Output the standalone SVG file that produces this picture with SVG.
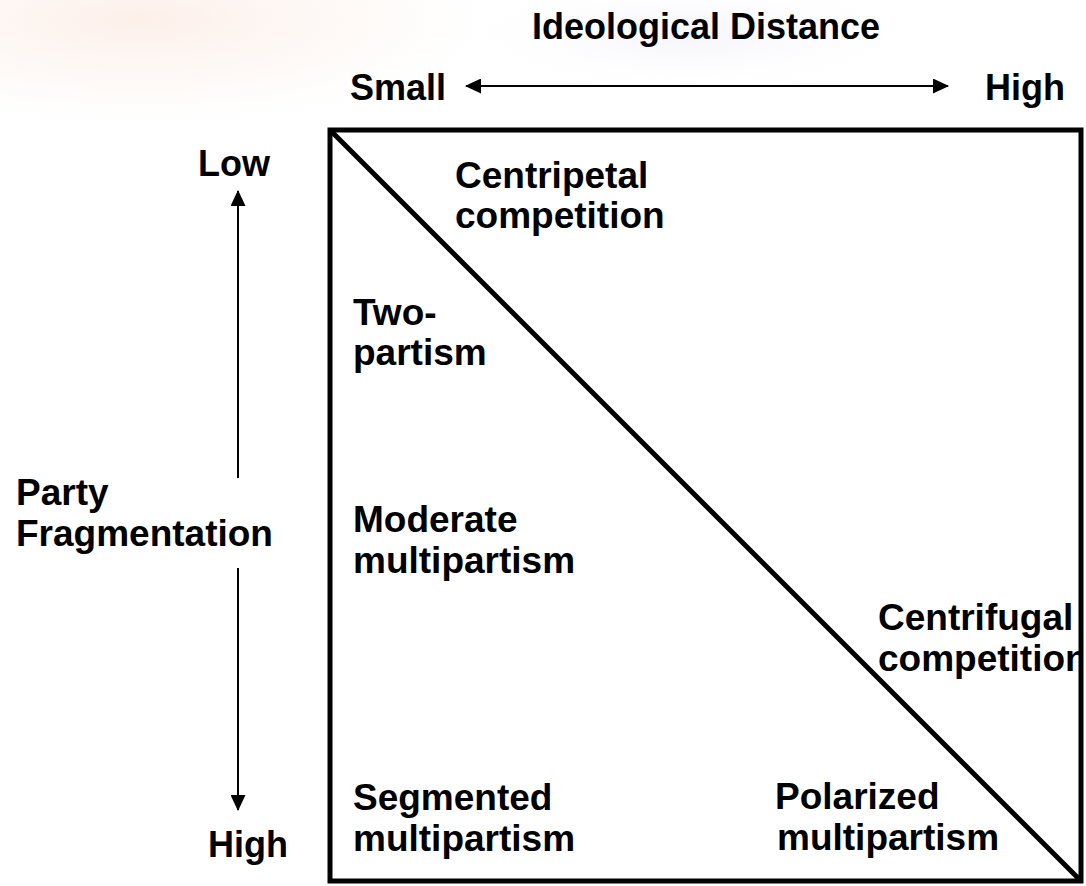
<svg xmlns="http://www.w3.org/2000/svg" width="1086" height="886" viewBox="0 0 1086 886">
  <defs>
    <style>
      .t { font-family: "Liberation Sans", Arial, sans-serif; font-weight: bold; font-size: 36px; fill: #000; }
      .in { font-size: 37px; }
      .ln { stroke: #000; fill: none; }
    </style>
    <marker id="ah" viewBox="0 0 16 15" refX="15" refY="7.5" markerWidth="16" markerHeight="15" markerUnits="userSpaceOnUse" orient="auto-start-reverse">
      <path d="M0,0 L16,7.5 L0,15 Z" fill="#000"/>
    </marker>
    <radialGradient id="g1" cx="140" cy="20" r="380" gradientUnits="userSpaceOnUse" gradientTransform="translate(140 20) scale(1 0.3) translate(-140 -20)">
      <stop offset="0" stop-color="#fbe5da" stop-opacity="0.6"/>
      <stop offset="0.6" stop-color="#fcefe8" stop-opacity="0.3"/>
      <stop offset="1" stop-color="#ffffff" stop-opacity="0"/>
    </radialGradient>
    <radialGradient id="g2" cx="690" cy="35" r="240" gradientUnits="userSpaceOnUse" gradientTransform="translate(690 35) scale(1 0.25) translate(-690 -35)">
      <stop offset="0" stop-color="#f0f0fa" stop-opacity="0.7"/>
      <stop offset="1" stop-color="#ffffff" stop-opacity="0"/>
    </radialGradient>
    <clipPath id="boxclip"><rect x="330" y="130" width="751" height="751"/></clipPath>
  </defs>
  <rect x="0" y="0" width="1086" height="886" fill="#fff"/>
  <rect x="0" y="0" width="1086" height="886" fill="url(#g1)"/>
  <rect x="0" y="0" width="1086" height="886" fill="url(#g2)"/>

  <g id="connectors">
    <line class="ln" x1="466" y1="86" x2="948" y2="86" stroke-width="2" marker-start="url(#ah)" marker-end="url(#ah)"/>
    <line class="ln" x1="238" y1="478" x2="238" y2="191" stroke-width="2" marker-end="url(#ah)"/>
    <line class="ln" x1="238" y1="568" x2="238" y2="810" stroke-width="2" marker-end="url(#ah)"/>
  </g>

  <g id="axis-x-title"><text class="t" x="532" y="39">Ideological Distance</text></g>
  <g id="axis-x-small"><text class="t" x="350" y="100">Small</text></g>
  <g id="axis-x-high"><text class="t" x="985" y="100">High</text></g>
  <g id="axis-y-low"><text class="t" x="198" y="176">Low</text></g>
  <g id="axis-y-title"><text class="t in" x="16" y="505">Party</text><text class="t in" x="16" y="546">Fragmentation</text></g>
  <g id="axis-y-high"><text class="t" x="208" y="857">High</text></g>

  <g id="centripetal"><text class="t in" x="455" y="188">Centripetal</text><text class="t in" x="455" y="228">competition</text></g>
  <g id="two-partism"><text class="t in" x="353" y="325">Two-</text><text class="t in" x="353" y="365">partism</text></g>
  <g id="moderate"><text class="t in" x="353" y="532">Moderate</text><text class="t in" x="353" y="573">multipartism</text></g>
  <g id="segmented"><text class="t in" x="353" y="810">Segmented</text><text class="t in" x="353" y="851">multipartism</text></g>
  <g id="polarized"><text class="t in" x="775" y="809">Polarized</text><text class="t in" x="777" y="850">multipartism</text></g>
  <g id="centrifugal" clip-path="url(#boxclip)"><text class="t in" x="878" y="630">Centrifugal</text><text class="t in" x="878" y="671">competition</text></g>

  <g id="frame">
    <rect x="330" y="130" width="751" height="751" fill="none" stroke="#000" stroke-width="5"/>
    <line x1="330" y1="130" x2="1081" y2="881" stroke="#000" stroke-width="5"/>
  </g>
</svg>
